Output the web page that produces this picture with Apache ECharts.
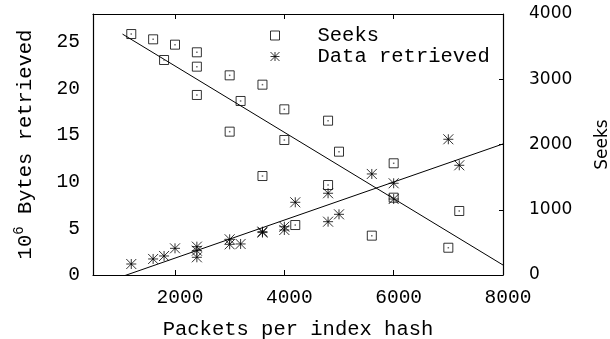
<!DOCTYPE html>
<html>
<head>
<meta charset="utf-8">
<script src="https://cdn.jsdelivr.net/npm/echarts@6/dist/echarts.min.js"></script>
<style>
html,body{margin:0;padding:0;background:#fff;}
#chart{width:610px;height:339px;}
</style>
</head>
<body>
<div id="chart"></div>
<script>
// ---- data ----
const packets = [1200,1600,1800,2000,2400,2400,2400,3000,3000,3200,3600,3600,4000,4000,4200,4800,4800,5000,5600,6000,6000,7000,7200];
const seeks   = [3693,3612,3295,3530,3413,3193,2759,3060,2197,2667,2917,1517,2539,2069,766,2365,1379,1890,603,1712,1185,418,981];
const bytesRetrieved = [1.18,1.72,2.04,2.86,3.04,2.61,1.90,3.83,3.29,3.33,4.65,4.55,5.18,4.83,7.80,8.77,5.72,6.51,10.84,9.84,8.15,14.56,11.77];
const seekFitX = [1040, 8000];
const seekFitY = [3692, 153];
const byteFitX = [1000, 8000];
const byteFitY = [-0.23, 14.06];
const xTicks = [2000, 4000, 6000, 8000];
const leftTicks = [0, 5, 10, 15, 20, 25];
const rightTicks = [0, 1000, 2000, 3000, 4000];

const mono = 'Liberation Mono';
const sans = 'DejaVu Sans';
const asterisk = 'path://M5 0L5 10M0 5L10 5M0 0L10 10M10 0L0 10';
const plain = v => String(v);

const zip = (a, b) => a.map((v, i) => [v, b[i]]);

const chart = echarts.init(document.getElementById('chart'), null, {renderer: 'canvas'});
chart.setOption({
  animation: false,
  backgroundColor: '#fff',
  grid: {left: 93, right: 107, top: 14, bottom: 64, containLabel: false, outerBoundsMode: 'none'},
  legend: {
    orient: 'vertical', left: 265, top: 20, itemGap: 0,
    itemWidth: 9, itemHeight: 9, selectedMode: false,
    data: ['Seeks', 'Data retrieved'],
    itemStyle: {borderWidth: 1},
    textStyle: {fontFamily: mono, fontSize: 20.5, color: '#000', lineHeight: 20, padding: [0, 0, 0, 33]}
  },
  xAxis: [{
    type: 'value', min: 500, max: 8000, position: 'bottom',
    name: 'Packets per index hash', nameLocation: 'middle', nameGap: 44,
    nameTextStyle: {fontFamily: mono, fontSize: 20.5, color: '#000'},
    axisLine: {show: true, onZero: false, lineStyle: {color: '#000', width: 1.2}},
    axisTick: {show: true, inside: true, length: 5, customValues: xTicks, lineStyle: {color: '#000'}},
    axisLabel: {customValues: xTicks, formatter: plain, fontFamily: mono, fontSize: 19.5, color: '#000', margin: 13, padding: [0, 0, 0, 10]},
    splitLine: {show: false}
  }, {
    type: 'value', min: 500, max: 8000, position: 'top',
    axisLine: {show: true, onZero: false, lineStyle: {color: '#000', width: 1.2}},
    axisTick: {show: true, inside: true, length: 5, customValues: xTicks, lineStyle: {color: '#000'}},
    axisLabel: {show: false},
    splitLine: {show: false}
  }],
  yAxis: [{
    type: 'value', min: 0, max: 28, position: 'left',
    name: '10{sup|6} Bytes retrieved', nameLocation: 'middle', nameGap: 53, nameRotate: 90,
    nameTextStyle: {fontFamily: mono, fontSize: 20.5, color: '#000',
      rich: {sup: {fontFamily: mono, fontSize: 14, color: '#000', padding: [0, 0, 14, 0]}}},
    axisLine: {show: true, onZero: false, lineStyle: {color: '#000', width: 1.2}},
    axisTick: {show: false},
    axisLabel: {customValues: leftTicks, formatter: plain, fontFamily: mono, fontSize: 19.5, color: '#000', margin: 13},
    splitLine: {show: false}
  }, {
    type: 'value', min: 0, max: 4000, position: 'right',
    name: 'Seeks', nameLocation: 'middle', nameGap: 91, nameRotate: 90,
    nameTextStyle: {fontFamily: sans, fontSize: 17, color: '#000'},
    axisLine: {show: true, onZero: false, lineStyle: {color: '#000', width: 1.2}},
    axisTick: {show: true, inside: true, length: 4, customValues: rightTicks, lineStyle: {color: '#000'}},
    axisLabel: {customValues: rightTicks, formatter: plain, fontFamily: sans, fontSize: 17, color: '#000', margin: 26},
    splitLine: {show: false}
  }],
  series: [{
    name: 'Seeks', type: 'scatter', yAxisIndex: 1,
    symbol: 'rect', symbolSize: 9,
    itemStyle: {color: 'rgba(0,0,0,0)', borderColor: '#000', borderWidth: 1},
    data: zip(packets, seeks), z: 3
  }, {
    name: 'seekCentre', type: 'scatter', yAxisIndex: 1,
    symbol: 'rect', symbolSize: 1.5, silent: true,
    itemStyle: {color: '#444'},
    data: zip(packets, seeks), z: 4
  }, {
    name: 'Data retrieved', type: 'scatter', yAxisIndex: 0,
    symbol: asterisk, symbolSize: 10,
    itemStyle: {color: 'rgba(0,0,0,0)', borderColor: '#000', borderWidth: 1},
    data: zip(packets, bytesRetrieved), z: 3
  }, {
    name: 'seekFit', type: 'line', yAxisIndex: 1, symbol: 'none', silent: true,
    lineStyle: {color: '#000', width: 1},
    data: zip(seekFitX, seekFitY), z: 2
  }, {
    name: 'byteFit', type: 'line', yAxisIndex: 0, symbol: 'none', silent: true, clip: true,
    lineStyle: {color: '#000', width: 1},
    data: zip(byteFitX, byteFitY), z: 2
  }]
});
</script>
</body>
</html>
